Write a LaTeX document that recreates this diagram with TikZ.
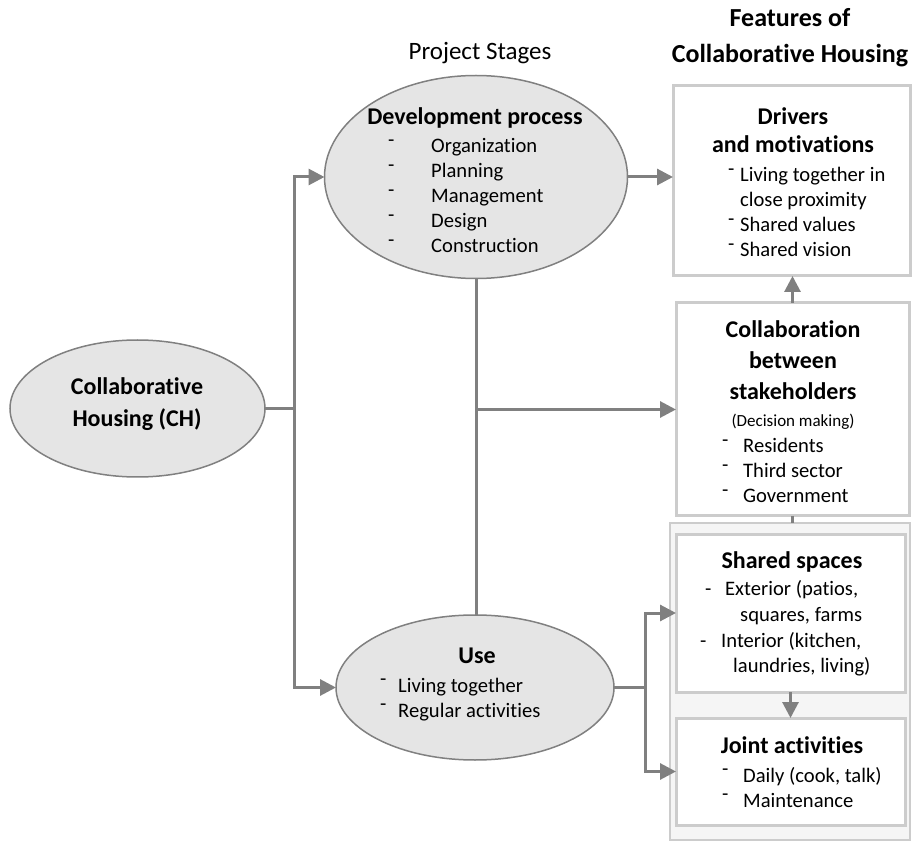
\documentclass[tikz,border=0pt]{standalone}
\usepackage{fontspec}
\setmainfont[Ligatures=NoCommon]{Carlito}
\usetikzlibrary{shapes.geometric}
\usetikzlibrary{arrows.meta}
\tikzset{%
  stage/.style={ellipse, draw=black!50, line width=1.5pt, fill=black!10,
                inner sep=0pt, outer sep=0pt},
  feat/.style={rectangle, draw=black!20, line width=3pt, fill=white,
               inner sep=0pt, outer sep=0pt},
  group/.style={rectangle, draw=black!20, line width=2pt, fill=black!4,
                inner sep=0pt, outer sep=0pt},
  link/.style={draw=black!50, line width=3pt},
  head/.style={font=\bfseries\fontsize{24}{30}\selectfont, inner sep=0pt,
               anchor=base},
  item/.style={font=\fontsize{20.6}{25}\selectfont, inner sep=0pt,
               anchor=base west},
}
\newcommand{\hy}[1][43]{\makebox[#1pt][l]{\raisebox{.3em}{-}}}
\newcommand{\hl}[1]{\makebox[#1pt][l]{-}}
\newcommand{\rows}[1]{\begin{tabular}[t]{@{}l@{}}#1\end{tabular}}
\newcommand{\crows}[1]{\begin{tabular}[t]{@{}c@{}}#1\end{tabular}}

\begin{document}
\begin{tikzpicture}[x=1pt,y=-1pt,>={Triangle[length=16pt,width=16pt]}]
              \useasboundingbox (0,0) rectangle (914,842);
              % titles
              \node[font=\fontsize{25}{30}\selectfont, inner sep=0pt, anchor=base]
                (stages) at (480,60) {Project Stages};
              \node[font=\bfseries\fontsize{26}{36}\selectfont, inner sep=0pt, anchor=base]
                (features) at (790,27) {\crows{Features of\\Collaborative Housing}};
              % shapes
              \node[stage, minimum width=255pt, minimum height=137pt] (ch) at (137.5,408.5) {};
              \node[stage, minimum width=303pt, minimum height=203pt] (dev) at (476,177) {};
              \node[stage, minimum width=278pt, minimum height=145pt] (use) at (475,687.5) {};
              \node[feat, minimum width=237pt, minimum height=190pt] (drv) at (791.5,181) {};
              \node[feat, minimum width=233pt, minimum height=213pt] (col) at (792.5,409.5) {};
              \node[group, minimum width=240pt, minimum height=317pt] (grp) at (790,681.5) {};
              \node[feat, minimum width=229pt, minimum height=158pt] (shr) at (790.5,613) {};
              \node[feat, minimum width=229pt, minimum height=107pt] (jnt) at (790.5,771.5) {};
              % texts
              \node[head] (chtext) at (137,395) {\crows{Collaborative\\[2pt]Housing (CH)}};
              \node[head] (devhead) at (475,125) {Development process};
              \node[item] (devlist) at (388,153)
                {\rows{\hy Organization\\ \hy Planning\\ \hy Management\\ \hy Design\\ \hy Construction}};
              \node[head] (usehead) at (477,663) {Use};
              \node[item] (uselist) at (380,692)
                {\rows{\hy[18]Living together\\ \hy[18]Regular activities}};
              \node[head] (drvhead) at (793,125) {\crows{Drivers\\[-2pt]and motivations}};
              \node[item] (drvlist) at (728,182)
                {\rows{\hy[12]Living together in\\ \hspace{12pt}close proximity\\
                       \hy[12]Shared values\\ \hy[12]Shared vision}};
              \node[head] (colhead) at (793,338) {\crows{Collaboration\\[1pt]between\\[1pt]stakeholders}};
              \node[font=\fontsize{17}{20}\selectfont, inner sep=0pt, anchor=base]
                (colnote) at (793,427) {(Decision making)};
              \node[item] (collist) at (722,453)
                {\rows{\hy[21]Residents\\ \hy[21]Third sector\\ \hy[21]Government}};
              \node[head] (shrhead) at (792,568) {Shared spaces};
              \node[item] (shrlist) at (700,595)
                {\rows{\hspace{5pt}\hl{20}Exterior (patios,\\[1pt] \hspace{40pt}squares, farms\\[1pt]
                       \hl{21}Interior (kitchen,\\ \hspace{33pt}laundries, living)}};
              \node[head] (jnthead) at (792,753) {Joint activities};
              \node[item] (jntlist) at (722,782)
                {\rows{\hy[21]Daily (cook, talk)\\ \hy[21]Maintenance}};
              % connectors
              \coordinate (split) at (294,408.5);
              \coordinate (fork) at (645,687.5);
              \coordinate (mid) at (dev.south |- col.west);
              \draw[link] (ch.east) -- (split);
              \draw[link,->] (split) |- (dev.west);
              \draw[link,->] (split) |- (use.west);
              \draw[link,->] (dev.east) -- (dev.east -| drv.west);
              \draw[link] (dev.south) -- (dev.south |- use.north);
              \draw[link,->] (mid) -- (col.west);
              \draw[link,->] (col.north) -- (col.north |- drv.south);
              \draw[link] (col.south) -- (col.south |- grp.north);
              \draw[link] (use.east) -- (fork);
              \draw[link,->] (fork) |- (shr.west);
              \draw[link,->] (fork) |- (jnt.west);
              \draw[link,->] (shr.south) -- (shr.south |- jnt.north);
          \end{tikzpicture}
\end{document}
